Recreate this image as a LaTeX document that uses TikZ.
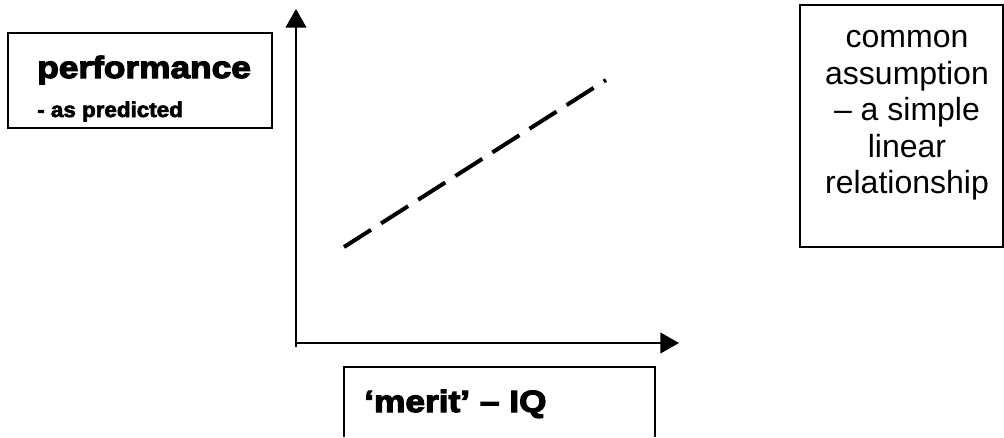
\documentclass[tikz,border=0pt]{standalone}
\usepackage{fontspec}
\setmainfont{Liberation Sans}
\newfontfamily\heavy{Liberation Sans}[UprightFont=* Bold, FakeStretch=1.15, FakeBold=4]
\newfontfamily\heavysmall{Liberation Sans}[UprightFont=* Bold, FakeStretch=1.05, FakeBold=3]
\usetikzlibrary{arrows.meta}
\begin{document}
\begin{tikzpicture}[x=0.75pt,y=-0.75pt,
  boxline/.style={draw=black, line width=1.5pt},
  axis/.style={line width=1.5pt, -{Triangle[length=14pt,width=15.5pt]}},
  trend/.style={line width=3pt, dash pattern=on 24pt off 9pt},
  bigbold/.style={font=\heavy\fontsize{23}{26}\selectfont, inner sep=0pt, anchor=base west},
  smallbold/.style={font=\heavysmall\fontsize{16}{18}\selectfont, inner sep=0pt, anchor=base west},
  plain/.style={font=\fontsize{24}{27.4}\selectfont, inner sep=0pt, align=center}]
\useasboundingbox (0,0) rectangle (1004,437);
% boxes
\draw[boxline] (8,33) rectangle (272,128);
\draw[boxline] (800,5) rectangle (1003,247);
\draw[boxline] (344,437) -- (344,367) -- (655,367) -- (655,437);
% texts
\node[bigbold] (perf) at (37,78) {performance};
\node[smallbold] (pred) at (37,117) {- as predicted};
\node[bigbold] (merit) at (364,412) {‘merit’ – IQ};
\node[plain, anchor=north] (assume) at (907,30) {common\\assumption\\– a simple\\linear\\relationship};
% axes
\coordinate (vbot) at (296,347);
\coordinate (vtop) at (296,9);
\coordinate (hleft) at (296,343);
\coordinate (hright) at (679,343);
\draw[axis] (vbot) -- (vtop);
\draw[axis] (hleft) -- (hright);
% dashed trend
\coordinate (ta) at (344,247);
\coordinate (tb) at (606,80);
\draw[trend] (ta) -- (tb);
\end{tikzpicture}
\end{document}
